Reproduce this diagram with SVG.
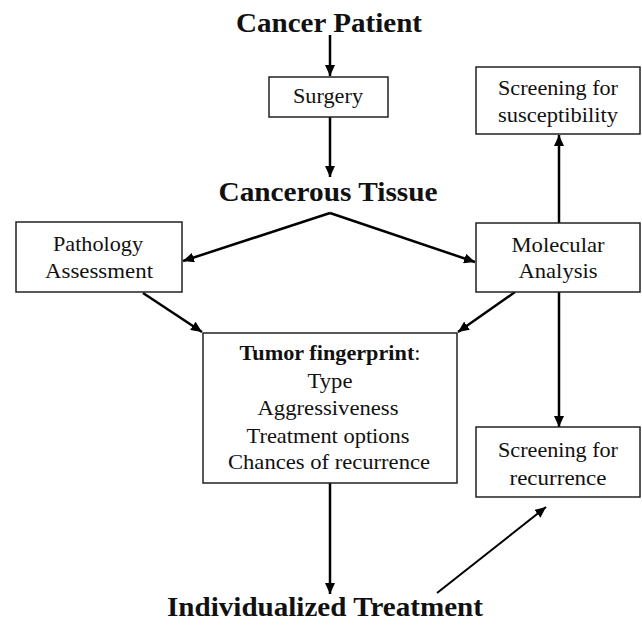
<svg xmlns="http://www.w3.org/2000/svg" width="642" height="625" viewBox="0 0 642 625">
  <defs>
    <marker id="ah" markerUnits="userSpaceOnUse" markerWidth="12" markerHeight="10" refX="11" refY="5" orient="auto">
      <path d="M0,0 L11,5 L0,10 z" fill="#000"/>
    </marker>
    <style>
      .box { fill: #fff; stroke: #222; stroke-width: 1.5; }
      .t { font-family: "Liberation Serif", "Times New Roman", serif; font-size: 21px; fill: #111; text-anchor: middle; }
      .h { font-family: "Liberation Serif", "Times New Roman", serif; font-size: 28px; font-weight: bold; fill: #111; text-anchor: middle; }
      .b { font-weight: bold; }
      .c { stroke: #000; stroke-width: 2.5; fill: none; marker-end: url(#ah); }
    </style>
  </defs>
  <rect width="642" height="625" fill="#fff"/>

  <g id="connectors">
    <line class="c" x1="330" y1="35" x2="330" y2="76"/>
    <line class="c" x1="330" y1="117" x2="330" y2="177"/>
    <polyline class="c" points="330,213 183,261" />
    <polyline class="c" points="330,213 475,262" />
    <line class="c" x1="143" y1="293" x2="202" y2="332"/>
    <line class="c" x1="515" y1="292" x2="458" y2="332"/>
    <line class="c" x1="559" y1="223" x2="559" y2="135"/>
    <line class="c" x1="559" y1="292" x2="559" y2="427"/>
    <line class="c" x1="330" y1="483" x2="330" y2="594"/>
    <line class="c" x1="437" y1="593" x2="546" y2="507" style="stroke-width:2"/>
  </g>

  <g id="cancer-patient">
    <text class="h" x="329" y="32" textLength="186" lengthAdjust="spacingAndGlyphs">Cancer Patient</text>
  </g>

  <g id="surgery">
    <rect class="box" x="269" y="77" width="119" height="40"/>
    <text class="t" x="328" y="103" textLength="70" lengthAdjust="spacingAndGlyphs">Surgery</text>
  </g>

  <g id="cancerous-tissue">
    <text class="h" x="328" y="201" textLength="219" lengthAdjust="spacingAndGlyphs">Cancerous Tissue</text>
  </g>

  <g id="pathology">
    <rect class="box" x="16" y="222" width="166" height="70"/>
    <text class="t" x="98" y="251" textLength="90" lengthAdjust="spacingAndGlyphs">Pathology</text>
    <text class="t" x="99" y="278" textLength="108" lengthAdjust="spacingAndGlyphs">Assessment</text>
  </g>

  <g id="molecular">
    <rect class="box" x="476" y="223" width="164" height="69"/>
    <text class="t" x="558" y="252" textLength="93" lengthAdjust="spacingAndGlyphs">Molecular</text>
    <text class="t" x="558" y="278" textLength="79" lengthAdjust="spacingAndGlyphs">Analysis</text>
  </g>

  <g id="susceptibility">
    <rect class="box" x="476" y="67" width="164" height="67"/>
    <text class="t" x="558" y="95" textLength="120" lengthAdjust="spacingAndGlyphs">Screening for</text>
    <text class="t" x="558" y="122" textLength="120" lengthAdjust="spacingAndGlyphs">susceptibility</text>
  </g>

  <g id="tumor-fingerprint">
    <rect class="box" x="203" y="333" width="254" height="150"/>
    <text class="t" x="330" y="360" textLength="181" lengthAdjust="spacingAndGlyphs"><tspan class="b">Tumor fingerprint</tspan>:</text>
    <text class="t" x="330" y="388" textLength="45" lengthAdjust="spacingAndGlyphs">Type</text>
    <text class="t" x="328" y="415" textLength="141" lengthAdjust="spacingAndGlyphs">Aggressiveness</text>
    <text class="t" x="328" y="443" textLength="163" lengthAdjust="spacingAndGlyphs">Treatment options</text>
    <text class="t" x="329" y="469" textLength="202" lengthAdjust="spacingAndGlyphs">Chances of recurrence</text>
  </g>

  <g id="recurrence">
    <rect class="box" x="476" y="427" width="164" height="70"/>
    <text class="t" x="558" y="457" textLength="120" lengthAdjust="spacingAndGlyphs">Screening for</text>
    <text class="t" x="558" y="485" textLength="97" lengthAdjust="spacingAndGlyphs">recurrence</text>
  </g>

  <g id="individualized-treatment">
    <text class="h" x="325" y="616" textLength="316" lengthAdjust="spacingAndGlyphs" style="font-size:28px">Individualized Treatment</text>
  </g>
</svg>
